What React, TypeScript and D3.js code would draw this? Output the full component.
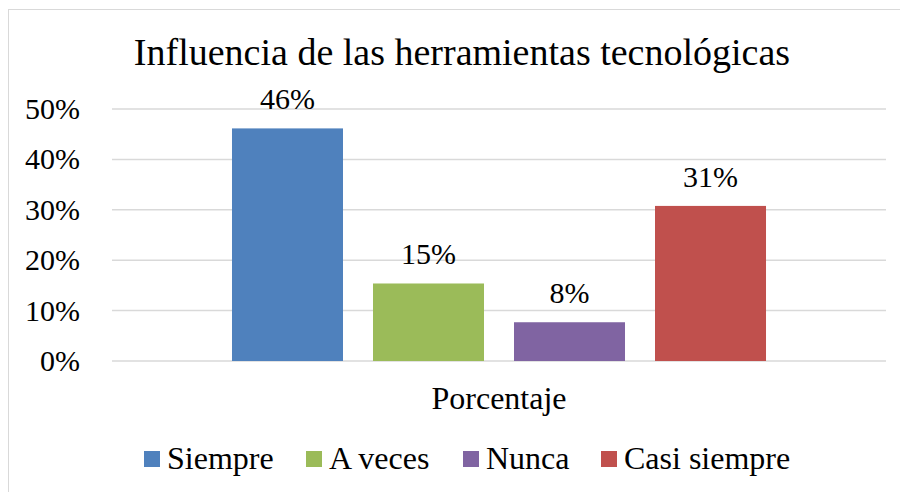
import React from "react";
import * as d3 from "d3";

const title = "Influencia de las herramientas tecnológicas";
const category = "Porcentaje";
const series = ["Siempre", "A veces", "Nunca", "Casi siempre"];
const values = [0.4615, 0.1538, 0.0769, 0.3077];
const labels = ["46%", "15%", "8%", "31%"];
const colors = ["#4f81bd", "#9bbb59", "#8064a2", "#c0504d"];
const yTicks = [0, 0.1, 0.2, 0.3, 0.4, 0.5];
const legendX = [144, 306, 463, 601];

const W = 900;
const H = 492;
const font = "Liberation Serif, Times New Roman, serif";

export default function App() {
  const plotL = 112, plotR = 886, plotT = 109, plotB = 361;
  const y = d3.scaleLinear().domain([0, 0.5]).range([plotB, plotT]);
  const x0 = d3.scaleBand<string>().domain([category]).range([plotL, plotR]).paddingOuter(0.2247).paddingInner(0);
  const x1 = d3.scaleBand<string>().domain(series).range([0, x0.bandwidth()]).paddingInner(0.2128).paddingOuter(0);
  const gx = x0(category) as number;

  return (
    <svg width={W} height={H} style={{ position: "absolute", left: 0, top: 0, fontFamily: font }}>
      <rect x={0} y={0} width={W} height={H} fill="#fff" />
      <rect x={8.5} y={9.5} width={W} height={H} fill="none" stroke="#d9d9d9" strokeWidth={1} />
      <text x={462} y={65} textAnchor="middle" fontSize={38} fill="#000">{title}</text>
      {yTicks.map((t) => (
        <g key={t}>
          <line x1={plotL} x2={plotR} y1={y(t)} y2={y(t)} stroke="#d9d9d9" strokeWidth={1.5} />
          <text x={80} y={y(t) + 10} textAnchor="end" fontSize={30} fill="#000">{d3.format(".0%")(t)}</text>
        </g>
      ))}
      {series.map((s, i) => {
        const bx = gx + (x1(s) as number);
        return (
          <g key={s}>
            <rect x={bx} y={y(values[i])} width={x1.bandwidth()} height={plotB - y(values[i])} fill={colors[i]} />
            <text x={bx + x1.bandwidth() / 2} y={y(values[i]) - 19} textAnchor="middle" fontSize={30} fill="#000">{labels[i]}</text>
          </g>
        );
      })}
      <text x={gx + x0.bandwidth() / 2} y={409} textAnchor="middle" fontSize={32} fill="#000">{category}</text>
      {series.map((s, i) => (
        <g key={"l" + s}>
          <rect x={legendX[i]} y={451} width={16} height={16} fill={colors[i]} />
          <text x={legendX[i] + 23} y={469} fontSize={32} fill="#000">{s}</text>
        </g>
      ))}
    </svg>
  );
}
